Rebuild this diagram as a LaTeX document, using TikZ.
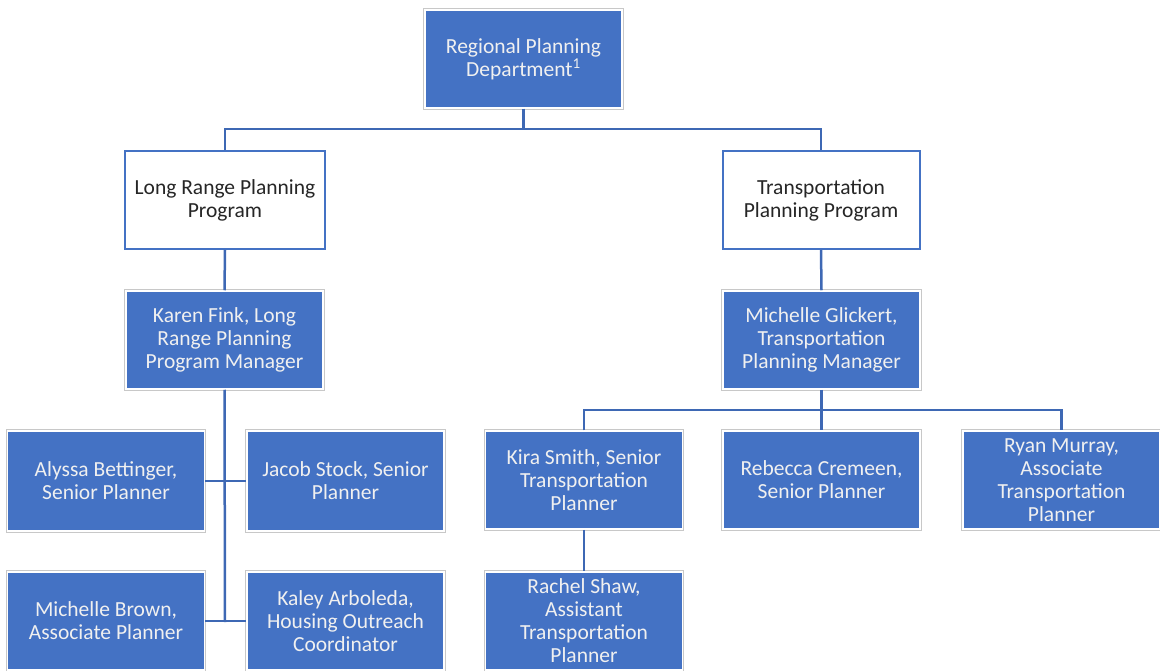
\documentclass[tikz,border=0pt]{standalone}
\usepackage{fontspec}
\setmainfont{Carlito}
\definecolor{boxblue}{RGB}{68,114,196}
\definecolor{lineblue}{RGB}{62,104,180}
\definecolor{edgegray}{RGB}{200,200,200}
\definecolor{darktext}{RGB}{38,38,38}
\tikzset{
  base/.style={minimum width=197pt, minimum height=98pt, inner sep=0pt, align=center,
    font=\fontsize{21.5}{23}\selectfont},
  bluebox/.style={base, fill=boxblue, draw=white, line width=1.5pt, text=white!94!black,
    preaction={draw=edgegray, line width=3.5pt}},
  whitebox/.style={base, fill=white, draw=boxblue, line width=2pt, text=darktext},
  conn/.style={draw=lineblue, line width=2.5pt}
}
\begin{document}
\begin{tikzpicture}[x=1pt,y=-1pt]
\useasboundingbox (0,0) rectangle (1160,671);
\node[bluebox] (top) at (523.5,59) {Regional Planning\\Department\textsuperscript{1}};
\node[whitebox, minimum width=200pt] (lr) at (225,200) {Long Range Planning\\Program};
\node[whitebox] (tp) at (821,200) {Transportation\\Planning Program};
\node[bluebox] (karen) at (224.5,340) {Karen Fink, Long\\Range Planning\\Program Manager};
\node[bluebox] (mg) at (821.5,340) {Michelle Glickert,\\Transportation\\Planning Manager};
\node[bluebox, minimum height=100pt] (alyssa) at (106,481) {Alyssa Bettinger,\\Senior Planner};
\node[bluebox, minimum height=100pt] (jacob) at (345.5,481) {Jacob Stock, Senior\\Planner};
\node[bluebox] (mbrown) at (106,621) {Michelle Brown,\\Associate Planner};
\node[bluebox] (kaley) at (345.5,621) {Kaley Arboleda,\\Housing Outreach\\Coordinator};
\node[bluebox] (kira) at (584,480) {Kira Smith, Senior\\Transportation\\Planner};
\node[bluebox] (rebecca) at (821.5,480) {Rebecca Cremeen,\\Senior Planner};
\node[bluebox] (ryan) at (1061.5,480) {Ryan Murray,\\Associate\\Transportation\\Planner};
\node[bluebox] (rachel) at (584,621) {Rachel Shaw,\\Assistant\\Transportation\\Planner};
% connectors
\coordinate (j1) at (523.5,129);
\coordinate (karenend) at (225,622);
\coordinate (j2) at (822,410);
\draw[conn] (top.south) -- (j1);
\draw[conn] (lr.north) |- (j1) -| (tp.north);
\draw[conn] (lr.south) -- (karen.north);
\draw[conn] (tp.south) -- (mg.north);
\draw[conn] (karen.south) -- (karenend);
\draw[conn] (alyssa.east) -- (jacob.west);
\draw[conn] (mbrown.east) -- (kaley.west);
\draw[conn] (mg.south) -- (rebecca.north);
\draw[conn] (kira.north) |- (j2) -| (ryan.north);
\draw[conn] (kira.south) -- (rachel.north);
\end{tikzpicture}
\end{document}
